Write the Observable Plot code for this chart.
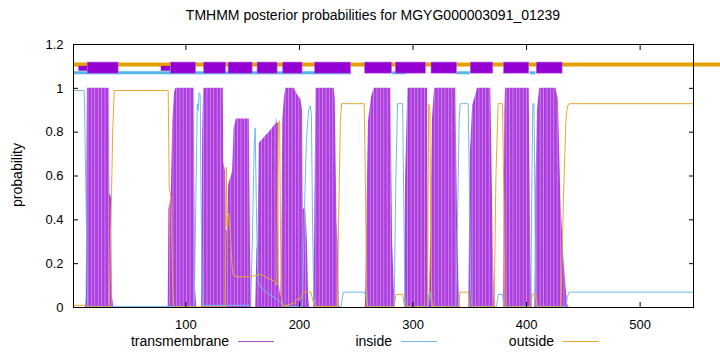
<!DOCTYPE html>
<html><head><meta charset="utf-8">
<script src="https://cdn.jsdelivr.net/npm/d3@7"></script>
<script src="https://cdn.jsdelivr.net/npm/@observablehq/plot@0.6"></script>
<style>
body{margin:0;background:#fff;}
#wrap{position:relative;width:720px;height:352px;font-family:"Liberation Sans",Arial,sans-serif;font-size:14px;color:#000;overflow:hidden;}
.t{position:absolute;white-space:nowrap;line-height:16px;}
.sw{position:absolute;height:0;width:36px;border-top:1px solid;}
</style></head><body><div id="wrap"></div>
<script>
// ---- data ----
const title = "TMHMM posterior probabilities for MGYG000003091_01239";
const yLabel = "probability";
const seriesNames = ["transmembrane", "inside", "outside"];
const seriesColors = ["#a64fd6", "#72bfea", "#eba82a"];
const xTicks = [100, 200, 300, 400, 500];
const yTicks = [0, 0.2, 0.4, 0.6, 0.8, 1, 1.2];

// [residue, posterior probability]
const tmPoints = [[1,0],[11.5,0],[12.2,0.03],[13.2,1],[32.5,1],[33,0.52],[34.5,0.5],[35.3,0.05],[36.5,0],
[84.4,0],[85,0.45],[87,0.5],[88.5,0.85],[90,0.98],[91.2,1],[107.3,1],[108.3,0.1],[109.5,0],
[113.8,0],[114.8,0.8],[115.6,1],[132.9,1],[133.3,0.66],[135,0.62],[135.5,0.35],[136.5,0.35],[137.6,0.56],[140,0.6],[141.1,0.62],[142.5,0.82],[144.5,0.86],[155.8,0.86],[156.8,0.3],[157.5,0.05],[158,0],
[161.5,0],[162.5,0.26],[163.5,0.3],[164.6,0.75],[173.4,0.8],[179.5,0.84],[179.8,0.87],[180.3,0.84],[181.8,0.84],[182.2,0.1],[183.6,0.05],[184.5,0.3],[185.3,0.85],[186.6,0.95],[188,1],[195.4,1],[198.3,0.97],[201.2,0.95],[202.7,0.9],[203.3,0.45],[205.6,0.45],[207,0.3],[208,0.05],[209,0],
[212.5,0],[213.3,0.3],[214.6,1],[230.6,1],[231.5,0.95],[233,0.4],[234,0.3],[235,0],
[258,0],[258.5,0.1],[259.6,0.5],[260.8,0.85],[263.5,0.96],[265.8,1],[280.5,1],[282,0.3],[283.4,0.1],[284.5,0],
[292.5,0],[293.5,0.6],[295.5,1],[312.8,1],[313.5,0.1],[314.5,0],[315.5,0.3],[317,0.85],[319,1],[337.7,1],[339.2,0.4],[340.6,0.1],[341.5,0],
[349,0],[350.5,0.7],[352.5,0.92],[355.3,0.97],[356.8,1],[368.5,1],[370,0.5],[371.5,0.05],[372,0],
[379.8,0],[380.9,0.9],[381.5,1],[402.3,1],[403.8,0.2],[405,0],
[407.3,0],[408.2,0.55],[409.6,0.9],[411.5,1],[425.8,1],[428,0.95],[430.2,0.5],[432.5,0.25],[434.6,0.1],[436,0.02],[437.5,0],[547,0]];

const insidePoints = [[1,0.99],[10.5,0.99],[12,0.5],[13.4,0.02],[14,0.005],[107.3,0.005],[108.8,0.5],[110,0.93],[110.8,0.9],[111.7,0.98],[112.6,0.97],[113.3,0.5],[114.5,0.01],[133,0.01],[157,0.01],[158.5,0.3],[160.2,0.75],[161,0.82],[162.2,0.4],[163.5,0.12],[166,0.09],[173.4,0.06],[180,0.04],[183.6,0.02],[186,0.005],[202.7,0.005],[204.2,0.4],[206,0.75],[208,0.9],[209.5,0.92],[210.5,0.88],[211.5,0.4],[212.5,0.05],[213.9,0.005],[236.6,0.005],[238.6,0.07],[257,0.07],[258.5,0.05],[260,0.005],[283.4,0.005],[284.9,0.6],[286.4,0.93],[290.8,0.93],[291.8,0.5],[292.8,0.05],[293.7,0.005],[312.8,0.005],[313.7,0.05],[314.8,0.07],[316,0.03],[317.2,0.005],[337.7,0.005],[339.2,0.4],[340.6,0.85],[341.5,0.93],[348.6,0.93],[349.5,0.6],[350.9,0.05],[352,0.005],[373.5,0.005],[375,0.06],[378.8,0.06],[380,0.005],[403.8,0.005],[404.5,0.5],[405.5,0.93],[406.5,0.93],[407.3,0.5],[408.2,0.005],[434.6,0.005],[436,0.05],[437.5,0.07],[547,0.07]];

const outsidePoints = [[1,0.01],[12,0.01],[13.4,0.003],[32.5,0.003],[33.5,0.3],[34.5,0.52],[35.5,0.8],[36.9,0.99],[84.4,0.99],[85.3,0.55],[86.8,0.5],[88,0.2],[89,0.01],[90,0.003],[134.7,0.003],[135.2,0.4],[135.6,0.64],[136.1,0.37],[137.6,0.43],[139,0.35],[140.5,0.2],[141.5,0.15],[145,0.14],[155.8,0.14],[160,0.145],[166,0.15],[173.4,0.13],[178,0.12],[180,0.1],[180.7,0.5],[181.3,0.85],[182.5,0.85],[183.2,0.4],[184,0.05],[185.5,0.005],[195.4,0.02],[198.3,0.04],[201.2,0.04],[203,0.07],[210,0.07],[211.5,0.04],[213,0.005],[233.5,0.005],[234.5,0.4],[236,0.85],[237.1,0.93],[257,0.93],[258,0.6],[259,0.1],[260,0.003],[283.4,0.003],[285,0.06],[291,0.06],[292.5,0.003],[312.8,0.003],[313.3,0.5],[313.8,0.93],[314.8,0.9],[315.5,0.4],[316.5,0.05],[317.2,0.003],[340,0.003],[341.5,0.07],[348.6,0.07],[350,0.003],[371.5,0.003],[373,0.6],[375,0.93],[378.8,0.93],[380,0.5],[380.9,0.003],[403.8,0.003],[405,0.06],[408,0.06],[409.5,0.003],[430.2,0.003],[432.5,0.5],[434.6,0.85],[436,0.92],[437.5,0.93],[547,0.93]];

// topology band segments [start, end] in residues
const topOutside = [[1, 571]];
const topInside = [[1, 246], [282, 294], [338.6, 350.3], [403.1, 408.1]];
const topHelices = [[13.5,40.7],[86.8,108.8],[116.1,135.2],[137.6,158.7],[163.1,180.7],[185.7,202.7],[213.8,245.3],[257.9,281.4],[284.9,311.3],[316.3,338.6],[350.9,370.6],[380.2,402.3],[409,431.7]];
const topTabs = [[5.8,13.5],[78.3,86.8]];

// ---- build ----
const toRows = pts => pts.map(([pos, p]) => ({pos, p}));
const toSeg = s => s.map(([a, b]) => ({a, b}));
const tm = toRows(tmPoints), inside = toRows(insidePoints), outside = toRows(outsidePoints);

const chart = Plot.plot({
  width: 720, height: 352,
  marginTop: 44, marginRight: 27, marginBottom: 45, marginLeft: 73,
  x: {domain: [1, 547]},
  y: {domain: [0, 1.2]},
  style: {fontFamily: '"Liberation Sans", Arial, sans-serif', fontSize: "13px", background: "white", color: "black", overflow: "visible"},
  marks: [
    Plot.areaY(tm, {x: "pos", y: "p", fill: "url(#tmStripes)"}),
    Plot.line(inside, {x: "pos", y: "p", stroke: "#6cbdea", strokeWidth: 1}),
    Plot.line(outside, {x: "pos", y: "p", stroke: "#eba82a", strokeWidth: 1}),
    Plot.ruleY(toSeg(topOutside), {x1: "a", x2: "b", y: () => 1.109, stroke: "#e69f00", strokeWidth: 4}),
    Plot.ruleY(toSeg(topInside), {x1: "a", x2: "b", y: () => 1.071, stroke: "#56b4e9", strokeWidth: 3}),
    Plot.rect(toSeg(topTabs), {x1: "a", x2: "b", y1: () => 1.078, y2: () => 1.1, fill: "#9400d3"}),
    Plot.rect(toSeg(topHelices), {x1: "a", x2: "b", y1: () => 1.067, y2: () => 1.1175, fill: "#9400d3", stroke: "#b060e0", strokeWidth: 0.6}),
    Plot.frame({stroke: "black"}),
    Plot.axisX(xTicks, {anchor: "bottom", tickSize: -5, tickPadding: 17, label: null}),
    Plot.axisX(xTicks, {anchor: "top", tickSize: -5, tickFormat: () => "", label: null}),
    Plot.axisY(yTicks, {anchor: "left", tickSize: -5, tickPadding: 15, tickFormat: d => String(d), label: null}),
    Plot.axisY(yTicks, {anchor: "right", tickSize: -5, tickFormat: () => "", label: null})
  ]
});

// stripe pattern mimicking gnuplot impulses
const ns = "http://www.w3.org/2000/svg";
const defs = document.createElementNS(ns, "defs");
defs.innerHTML = '<pattern id="tmStripes" patternUnits="userSpaceOnUse" x="0" y="0" width="3.4" height="10">' +
  '<rect width="3.4" height="10" fill="#ad3fdf"/><rect x="2.6" width="0.8" height="10" fill="#d08cf0"/></pattern>';
chart.insertBefore(defs, chart.firstChild);

const wrap = document.getElementById("wrap");
wrap.appendChild(chart);

function addText(txt, css) {
  const d = document.createElement("div");
  d.className = "t"; d.textContent = txt; d.style.cssText += css;
  wrap.appendChild(d);
}
addText(title, "left:0;width:746px;text-align:center;top:7px;");
addText(yLabel, "left:17px;top:175px;transform:translate(-50%,-50%) rotate(-90deg);");
const legendRight = [229, 392, 554];
seriesNames.forEach((n, i) => {
  addText(n, `right:${720 - legendRight[i]}px;top:333px;`);
  const s = document.createElement("div");
  s.className = "sw"; s.style.left = (legendRight[i] + 9) + "px"; s.style.top = "341px"; s.style.borderTopColor = seriesColors[i];
  wrap.appendChild(s);
});
</script></body></html>
